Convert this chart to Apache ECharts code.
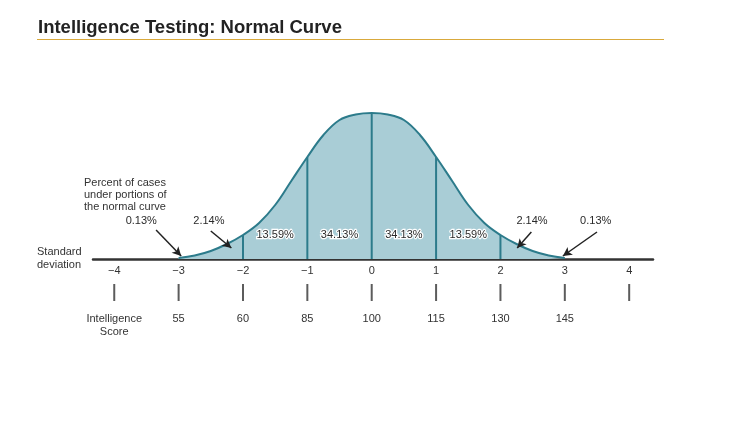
<!DOCTYPE html>
<html>
<head>
<meta charset="utf-8">
<script src="https://cdn.jsdelivr.net/npm/echarts@6/dist/echarts.min.js"></script>
<style>
html,body{margin:0;padding:0;background:#fff;}
#chart{width:729px;height:422px;}
</style>
</head>
<body>
<div id="chart"></div>
<script>
// ---- data ----
const sdValues = [-3,-2.75,-2.5,-2.25,-2,-1.75,-1.5,-1.25,-1,-0.75,-0.5,-0.25,0,0.25,0.5,0.75,1,1.25,1.5,1.75,2,2.25,2.5,2.75,3];
const curveHeights = [1,3.5,8,15,24,36,54,78,102,124,139,144.5,146,144.5,139,124,102,78,54,36,24,15,8,3.5,1];
const dividerSD = [-2,-1,0,1,2];
const pctMid = [-1.5,-0.5,0.5,1.5];
const pctText = ['13.59%','34.13%','34.13%','13.59%'];
const calloutText = ['0.13%','2.14%','2.14%','0.13%'];
const sdTicks = [-4,-3,-2,-1,0,1,2,3,4];
const sdTickLabels = ['\u22124','\u22123','\u22122','\u22121','0','1','2','3','4'];
const scoreTicks = [-4,-3,-2,-1,0,1,2,3,4];
const scoreLabels = ['Intelligence\nScore','55','60','85','100','115','130','145',''];

// ---- chart ----
const chart = echarts.init(document.getElementById('chart'), null, {renderer:'canvas'});
const curveData = sdValues.map((x,i)=>[x,curveHeights[i]]);
const dividerData = dividerSD.map(x=>[x,curveHeights[sdValues.indexOf(x)]]);
const FONT = 'Liberation Sans, Arial, sans-serif';
const fill = '#a9cdd6';
const stroke = '#2c7b8b';

const calloutPos = [[-3.58,38],[-2.53,38],[2.49,38],[3.48,38]];
const arrowLines = [
  [[-3.35,29],[-2.96,3]],
  [[-2.5,28],[-2.18,11]],
  [[2.48,27],[2.26,11]],
  [[3.5,27],[2.97,3]]
];

const hidden = {color:'#fff',opacity:0};

chart.setOption({
  animation:false,
  backgroundColor:'#fff',
  textStyle:{fontFamily:FONT},
  grid:[
    {left:93,right:76,top:113,bottom:163},
    {left:93,right:76,top:284,height:17}
  ],
  xAxis:[
    {type:'value',gridIndex:0,min:-4.33,max:4.37,
     splitLine:{show:false},axisTick:{show:false},
     axisLine:{show:true,onZero:false,lineStyle:{color:'#333',width:2.5}},
     axisLabel:{customValues:sdTicks,margin:6,fontSize:11,color:'#333',fontFamily:FONT,
       formatter:v=>sdTickLabels[sdTicks.indexOf(Math.round(v))]}},
    {type:'value',gridIndex:1,min:-4.33,max:4.37,position:'bottom',
     splitLine:{show:false},axisTick:{show:false},axisLine:{show:false},
     axisLabel:{customValues:scoreTicks,margin:11,fontSize:11,lineHeight:13,color:'#333',fontFamily:FONT,
       formatter:v=>scoreLabels[scoreTicks.indexOf(Math.round(v))]}}
  ],
  yAxis:[
    {type:'value',gridIndex:0,min:0,max:146,show:false},
    {type:'value',gridIndex:1,min:0,max:1,show:false}
  ],
  series:[
    {type:'line',xAxisIndex:0,yAxisIndex:0,data:curveData,smooth:0.4,symbol:'none',
     lineStyle:{color:stroke,width:2},areaStyle:{color:fill,opacity:1},z:2,
     markLine:{silent:true,symbol:['none','arrow'],symbolSize:[7,9],
       lineStyle:{color:'#222',width:1.5,type:'solid'},label:{show:false},
       data:arrowLines.map(l=>[{coord:l[0]},{coord:l[1]}])}},
    {type:'bar',xAxisIndex:0,yAxisIndex:0,data:dividerData,barWidth:2,
     itemStyle:{color:stroke},z:3},
    {type:'scatter',xAxisIndex:0,yAxisIndex:0,symbol:'circle',symbolSize:2,itemStyle:hidden,
     data:pctMid.map((x,i)=>({value:[x,24],name:pctText[i]})),
     label:{show:true,position:'inside',formatter:p=>p.name,fontSize:11,color:'#2a2a2a',opacity:1,
       textBorderColor:'#fff',textBorderWidth:2.5,fontFamily:FONT},z:5},
    {type:'scatter',xAxisIndex:0,yAxisIndex:0,symbol:'circle',symbolSize:2,itemStyle:hidden,
     data:calloutPos.map((p,i)=>({value:p,name:calloutText[i]})),
     label:{show:true,position:'inside',formatter:p=>p.name,fontSize:11,color:'#2a2a2a',opacity:1,fontFamily:FONT},z:5},
    {type:'scatter',xAxisIndex:1,yAxisIndex:1,symbol:'rect',symbolSize:[2,17],
     data:scoreTicks.map(x=>[x,0.5]),itemStyle:{color:'#333'}}
  ],
  graphic:[
    {type:'text',left:38,top:18,style:{text:'Intelligence Testing: Normal Curve',
      font:'bold 18.5px '+FONT,fill:'#222'}},
    {type:'rect',shape:{x:37,y:39,width:627,height:1},style:{fill:'#d9a93c'}},
    {type:'text',left:84,top:177,style:{text:'Percent of cases\nunder portions of\nthe normal curve',
      font:'11px '+FONT,fill:'#333',lineHeight:12}},
    {type:'text',left:37,top:245,style:{text:'Standard\ndeviation',
      font:'11px '+FONT,fill:'#333',lineHeight:13}}
  ]
});
</script>
</body>
</html>
